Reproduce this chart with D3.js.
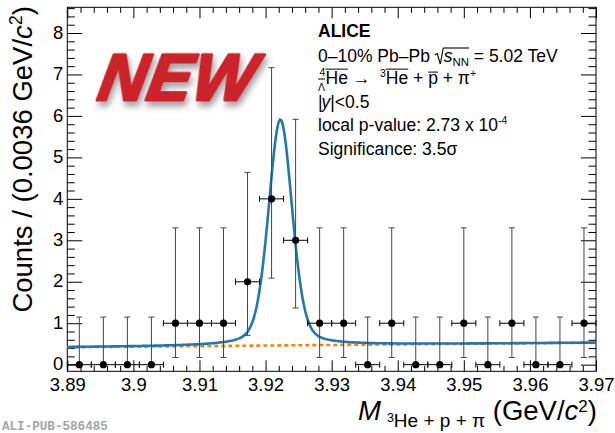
<!DOCTYPE html>
<html>
<head>
<meta charset="utf-8">
<script src="https://cdn.jsdelivr.net/npm/d3@7"></script>
<style>
  html, body { margin: 0; padding: 0; background: #fff; }
  svg { display: block; font-family: "Liberation Sans", Arial, Helvetica, sans-serif; }
  svg text { white-space: pre; }
</style>
</head>
<body>
<svg id="chart" width="615" height="433"></svg>
<script>
// Invariant-mass histogram: bin centres (GeV/c^2) and counts per bin
const massCenters = [3.891818, 3.895455, 3.899091, 3.902727, 3.906364, 3.910000,
  3.913636, 3.917273, 3.920909, 3.924545, 3.928182, 3.931818, 3.935455, 3.939091,
  3.942727, 3.946364, 3.950000, 3.953636, 3.957273, 3.960909, 3.964545, 3.968182];
const counts = [0, 0, 0, 0, 1, 1, 1, 2, 4, 3, 1, 1, 0, 1, 0, 0, 1, 0, 1, 0, 0, 1];
// Asymmetric Poisson uncertainties
const errLow = [0, 0, 0, 0, 0.827, 0.827, 0.827, 1.292, 1.914, 1.633, 0.827, 0.827,
  0, 0.827, 0, 0, 0.827, 0, 0.827, 0, 0, 0.827];
const errHigh = [1.148, 1.148, 1.148, 1.148, 2.300, 2.300, 2.300, 2.638, 3.162, 2.918,
  2.300, 2.300, 1.148, 2.300, 1.148, 1.148, 2.300, 1.148, 2.300, 1.148, 1.148, 2.300];
const binHalfWidth = 0.0018182;

// Fit: signal peak (pseudo-Voigt shape) on top of a linear background
const fitMean = 3.92224;
const fitHWHM = 0.00212;
const fitAmplitude = 5.45;
const fitLorentzFrac = 0.3;
const bkgAtLow = 0.42;   // background at 3.89
const bkgAtHigh = 0.53;  // background at 3.97

// Axis ticks
const xMajor = [3.89, 3.90, 3.91, 3.92, 3.93, 3.94, 3.95, 3.96, 3.97];
const xTickLabels = ["3.89", "3.9", "3.91", "3.92", "3.93", "3.94", "3.95", "3.96", "3.97"];
const yMajor = [0, 1, 2, 3, 4, 5, 6, 7, 8];
const yTickLabels = ["0", "1", "2", "3", "4", "5", "6", "7", "8"];

const svg = d3.select("#chart");
const x = d3.scaleLinear().domain([3.89, 3.97]).range([67.3, 596]);
const y = d3.scaleLinear().domain([-0.16, 8.62]).range([371.3, 7.3]);
const [x0, x1] = x.range();
const [yb, yt] = y.range();

const xMinor = d3.range(3.89, 3.9701, 0.002).filter(v => !xMajor.some(m => Math.abs(m - v) < 1e-6));
const yMinor = d3.range(0, 8.61, 0.2).filter(v => !yMajor.some(m => Math.abs(m - v) < 1e-6));

function bkg(m) { return bkgAtLow + (m - 3.89) / 0.08 * (bkgAtHigh - bkgAtLow); }
function peak(m) {
  const u = (m - fitMean) / fitHWHM;
  const lor = 1 / (1 + u * u);
  const gau = Math.exp(-Math.LN2 * u * u);
  return fitAmplitude * (fitLorentzFrac * lor + (1 - fitLorentzFrac) * gau);
}

// ---- "NEW" badge ----
const defs = svg.append("defs");
const shadow = defs.append("filter").attr("id", "badgeShadow")
  .attr("x", "-20%").attr("y", "-20%").attr("width", "140%").attr("height", "150%");
shadow.append("feDropShadow").attr("dx", 3).attr("dy", 5).attr("stdDeviation", 3)
  .attr("flood-color", "#555").attr("flood-opacity", 0.55);

svg.append("text")
  .attr("transform", "translate(96,100) skewX(-10)")
  .attr("font-size", 66).attr("font-weight", "bold").attr("font-style", "italic")
  .attr("fill", "#cc2229").attr("stroke", "#cc2229").attr("stroke-width", 3)
  .attr("stroke-linejoin", "round").attr("letter-spacing", 1)
  .attr("filter", "url(#badgeShadow)")
  .text("NEW");

// ---- axes (ticks pointing inwards on all four sides) ----
const axisG = svg.append("g");
function addAxis(gen, tr) {
  const g = axisG.append("g").attr("transform", tr).call(gen);
  g.select(".domain").remove();
  g.selectAll("text").attr("font-family", "Liberation Sans, Arial, sans-serif").attr("fill", "#000");
  g.selectAll("line").attr("stroke", "#000");
  return g;
}
addAxis(d3.axisBottom(x).tickValues(xMajor).tickSizeInner(-11).tickSizeOuter(0)
  .tickPadding(6.5).tickFormat((d, i) => xTickLabels[i]), `translate(0,${yb})`)
  .selectAll("text").attr("font-size", 18.5);
addAxis(d3.axisBottom(x).tickValues(xMinor).tickSizeInner(-5.5).tickSizeOuter(0).tickFormat(""), `translate(0,${yb})`);
addAxis(d3.axisTop(x).tickValues(xMajor).tickSizeInner(-11).tickSizeOuter(0).tickFormat(""), `translate(0,${yt})`);
addAxis(d3.axisTop(x).tickValues(xMinor).tickSizeInner(-5.5).tickSizeOuter(0).tickFormat(""), `translate(0,${yt})`);
addAxis(d3.axisLeft(y).tickValues(yMajor).tickSizeInner(-15).tickSizeOuter(0)
  .tickPadding(4).tickFormat((d, i) => yTickLabels[i]), `translate(${x0},0)`)
  .selectAll("text").attr("font-size", 18.5).attr("dy", "0.28em");
addAxis(d3.axisLeft(y).tickValues(yMinor).tickSizeInner(-7.5).tickSizeOuter(0).tickFormat(""), `translate(${x0},0)`);
addAxis(d3.axisRight(y).tickValues(yMajor).tickSizeInner(-15).tickSizeOuter(0).tickFormat(""), `translate(${x1},0)`);
addAxis(d3.axisRight(y).tickValues(yMinor).tickSizeInner(-7.5).tickSizeOuter(0).tickFormat(""), `translate(${x1},0)`);

svg.append("rect").attr("x", x0).attr("y", yt).attr("width", x1 - x0).attr("height", yb - yt)
  .attr("fill", "none").attr("stroke", "#000").attr("stroke-width", 1);

// ---- fit curves ----
const grid = d3.range(3.89, 3.97001, 0.0002);
const line = d3.line().x(d => x(d[0])).y(d => y(d[1]));
svg.append("path").datum(grid.map(m => [m, bkg(m)])).attr("d", line)
  .attr("fill", "none").attr("stroke", "#ff7f0e").attr("stroke-width", 2.6)
  .attr("stroke-dasharray", "4,3");
svg.append("path").datum(grid.map(m => [m, bkg(m) + peak(m)])).attr("d", line)
  .attr("fill", "none").attr("stroke", "#1f77b4").attr("stroke-width", 2.6);

// ---- data points with error bars ----
const pts = massCenters.map((m, i) => ({ m, c: counts[i], lo: errLow[i], hi: errHigh[i] }));
const pg = svg.append("g");
const cap = 3;
pts.forEach(p => {
  const cx = x(p.m), cy = y(p.c);
  const ytop = y(p.c + p.hi), ybot = y(p.c - p.lo);
  pg.append("line").attr("x1", cx).attr("x2", cx).attr("y1", ytop).attr("y2", ybot)
    .attr("stroke", "#444").attr("stroke-width", 1);
  pg.append("line").attr("x1", cx - cap).attr("x2", cx + cap).attr("y1", ytop).attr("y2", ytop)
    .attr("stroke", "#444").attr("stroke-width", 1);
  if (p.lo > 0) {
    pg.append("line").attr("x1", cx - cap).attr("x2", cx + cap).attr("y1", ybot).attr("y2", ybot)
      .attr("stroke", "#444").attr("stroke-width", 1);
  }
  const xl = x(p.m - binHalfWidth), xr = x(p.m + binHalfWidth);
  pg.append("line").attr("x1", xl).attr("x2", xr).attr("y1", cy).attr("y2", cy)
    .attr("stroke", "#000").attr("stroke-width", 1);
  [xl, xr].forEach(xe => pg.append("line").attr("x1", xe).attr("x2", xe)
    .attr("y1", cy - cap).attr("y2", cy + cap).attr("stroke", "#000").attr("stroke-width", 1));
  pg.append("circle").attr("cx", cx).attr("cy", cy).attr("r", 3.6).attr("fill", "#000");
});

// ---- rich text helper: sequence of runs with sub/superscripts and overlines ----
function rich(parent, x, y, size, runs) {
  let cx = x;
  runs.forEach(r => {
    const fs = size * (r.scale || 1);
    const ty = y + (r.dy || 0) * size;
    const t = parent.append("text").attr("x", cx + (r.dx || 0)).attr("y", ty)
      .attr("font-size", fs)
      .attr("font-style", r.italic ? "italic" : null)
      .attr("font-weight", r.bold ? "bold" : null)
      .attr("fill", "#000").text(r.t);
    const w = t.node().getComputedTextLength();
    if (r.over) {
      const oy = ty - fs * r.over;
      parent.append("line").attr("x1", cx + (r.dx || 0) + (r.overPad || 0))
        .attr("x2", cx + (r.dx || 0) + w + (r.overExt || 0))
        .attr("y1", oy).attr("y2", oy).attr("stroke", "#000").attr("stroke-width", 1);
    }
    cx += (r.adv !== undefined) ? r.adv : w + (r.dx || 0) + (r.kern || 0);
  });
  return cx;
}

// ---- legend / info block ----
const info = svg.append("g");
const fs = 17.5;
const lx = 318;
rich(info, lx, 37, fs, [{ t: "ALICE", bold: true }]);
// second line, with the square-root sign drawn by hand
{
  const g = info;
  let cx = rich(g, lx, 62, fs, [{ t: "0\u201310% Pb\u2013Pb " }]);
  const sq = cx;
  g.append("path").attr("d", `M${sq},${62 - 7} L${sq + 2.5},${62 - 8.5} L${sq + 5.5},${62 + 2} L${sq + 8.5},${62 - 14}`)
    .attr("fill", "none").attr("stroke", "#000").attr("stroke-width", 1.1);
  cx = rich(g, sq + 9, 62, fs, [
    { t: "s", italic: true },
    { t: "NN", scale: 0.65, dy: 0.2 }
  ]);
  g.append("line").attr("x1", sq + 8.5).attr("x2", cx).attr("y1", 62 - 14).attr("y2", 62 - 14)
    .attr("stroke", "#000").attr("stroke-width", 1.1);
  rich(g, cx, 62, fs, [{ t: " = 5.02 TeV" }]);
}
// decay channel
{
  const g = info;
  const by = 84;
  // stacked "4" over anti-Lambda
  g.append("text").attr("x", lx + 1.5).attr("y", by - 8.5).attr("font-size", fs * 0.6).text("4");
  const lam = g.append("text").attr("x", lx).attr("y", by + 7).attr("font-size", fs * 0.6).text("\u039B");
  const lw = lam.node().getComputedTextLength();
  g.append("line").attr("x1", lx).attr("x2", lx + lw).attr("y1", by - 5).attr("y2", by - 5)
    .attr("stroke", "#000").attr("stroke-width", 1);
  rich(g, lx + lw + 0.5, by, fs, [
    { t: "He", over: 0.85 },
    { t: " \u2192  " },
    { t: "3", scale: 0.6, dy: -0.42 },
    { t: "He", over: 0.85 },
    { t: " + " },
    { t: "p", over: 0.68 },
    { t: " + \u03C0" },
    { t: "+", scale: 0.6, dy: -0.42 }
  ]);
}
rich(info, lx, 108, fs, [{ t: "|" }, { t: "y", italic: true, dx: -1 }, { t: "|<0.5" }]);
rich(info, lx, 131, fs, [{ t: "local p-value: 2.73 x 10" }, { t: "-4", scale: 0.6, dy: -0.42 }]);
rich(info, lx, 155, fs, [{ t: "Significance: 3.5\u03C3" }]);

// ---- axis titles ----
{
  const g = svg.append("g").attr("transform", "translate(32,6) rotate(-90)");
  const parts = g.append("text").attr("text-anchor", "end").attr("font-size", 27.5).attr("fill", "#000");
  parts.append("tspan").text("Counts / (0.0036 GeV/");
  parts.append("tspan").attr("font-style", "italic").text("c");
  parts.append("tspan").attr("font-size", 18).attr("dy", -10).text("2");
  parts.append("tspan").attr("dy", 10).text(")");
}
{
  const g = svg.append("g");
  const t = g.append("text").attr("x", 597).attr("y", 420).attr("text-anchor", "end")
    .attr("font-size", 27.5).attr("fill", "#000");
  t.append("tspan").attr("font-style", "italic").text("M");
  t.append("tspan").attr("font-size", 12.5).attr("dx", 6).attr("dy", 2).text("3");
  t.append("tspan").attr("font-size", 19).attr("dy", 5).text("He + p + \u03C0");
  t.append("tspan").attr("dy", -7).text(" (GeV/");
  t.append("tspan").attr("font-style", "italic").text("c");
  t.append("tspan").attr("font-size", 17).attr("dy", -8).text("2");
  t.append("tspan").attr("dy", 8).text(")");
}

// ---- publication id ----
svg.append("text").attr("x", 2).attr("y", 430)
  .attr("font-family", "Liberation Mono, DejaVu Sans Mono, monospace")
  .attr("font-size", 12.6).attr("font-weight", "bold").attr("fill", "#a5a5a5")
  .text("ALI-PUB-586485");
</script>
</body>
</html>
